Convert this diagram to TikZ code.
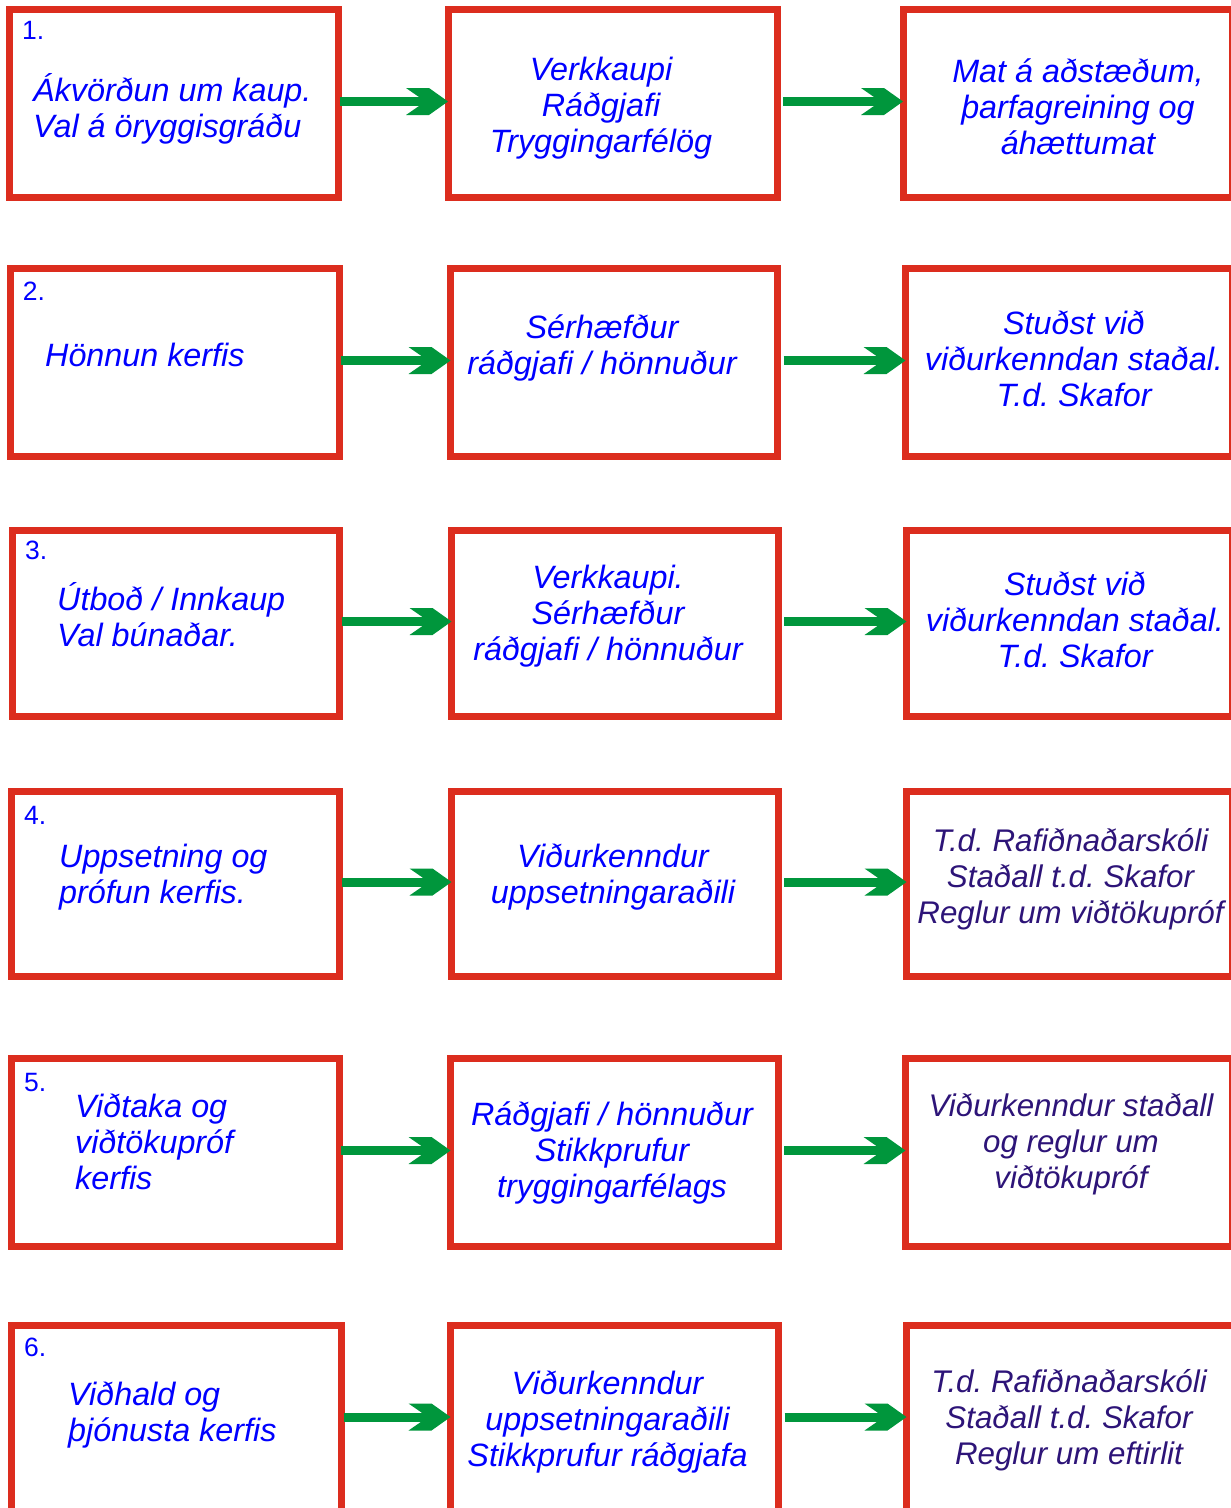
\documentclass[tikz,border=0pt]{standalone}
\usepackage{fontspec}
\setmainfont{Liberation Sans}
\usetikzlibrary{arrows.meta,fit}
\definecolor{boxred}{RGB}{220,45,30}
\definecolor{arrgreen}{RGB}{0,150,60}
\definecolor{txtblue}{RGB}{0,0,255}
\definecolor{txtindigo}{RGB}{45,20,120}
\pgfdeclarearrow{
  name = Chev,
  parameters = {},
  setup code = {
    \pgfarrowssettipend{0pt}
    \pgfarrowssetbackend{-42pt}
    \pgfarrowssetlineend{-28pt}
    \pgfarrowshullpoint{0pt}{0pt}
    \pgfarrowsupperhullpoint{-42pt}{13.5pt}
  },
  drawing code = {
    \pgfpathmoveto{\pgfqpoint{0pt}{0pt}}
    \pgfpathlineto{\pgfqpoint{-19pt}{13.5pt}}
    \pgfpathlineto{\pgfqpoint{-42pt}{13.5pt}}
    \pgfpathlineto{\pgfqpoint{-29pt}{4.5pt}}
    \pgfpathlineto{\pgfqpoint{-29pt}{-4.5pt}}
    \pgfpathlineto{\pgfqpoint{-42pt}{-13.5pt}}
    \pgfpathlineto{\pgfqpoint{-19pt}{-13.5pt}}
    \pgfpathclose
    \pgfusepathqfill
  }
}
\tikzset{
  box/.style={draw=boxred, line width=7pt, inner sep=0pt, outer sep=0pt, fit={#1}},
  conn/.style={color=arrgreen, line width=9pt, -{Chev}},
  ctext/.style={font=\fontsize{32.3}{36}\selectfont\itshape\frenchspacing, inner sep=0pt, align=center, text=txtblue, anchor=base},
  ltext/.style={ctext, align=left, anchor=base west},
  itext/.style={ctext, font=\fontsize{31.3}{35.6}\selectfont\itshape\frenchspacing, text=txtindigo},
  num/.style={font=\fontsize{26.5}{30}\selectfont, text=txtblue, inner sep=0pt, anchor=base west},
}
\begin{document}
\begin{tikzpicture}[x=1pt, y=-1pt]
\path[use as bounding box, fill=white] (0,0) rectangle (1231,1508);
% boxes
\node[box={(9.5,9.5) (338,197.5)}] (r1c1) {};
\node[box={(448,9.5) (777,197.5)}] (r1c2) {};
\node[box={(903,9.5) (1232,197.5)}] (r1c3) {};
\node[box={(10.5,268.5) (339,456.5)}] (r2c1) {};
\node[box={(450.5,268.5) (777.5,456.5)}] (r2c2) {};
\node[box={(905.5,268.5) (1232,456.5)}] (r2c3) {};
\node[box={(12,530.5) (339.5,716.5)}] (r3c1) {};
\node[box={(451.5,530.5) (778,716.5)}] (r3c2) {};
\node[box={(906.5,530.5) (1232,716.5)}] (r3c3) {};
\node[box={(11.5,791.5) (339.5,976.5)}] (r4c1) {};
\node[box={(451.5,791.5) (778,976.5)}] (r4c2) {};
\node[box={(906.5,791.5) (1232,976.5)}] (r4c3) {};
\node[box={(11.5,1058.5) (339,1246.5)}] (r5c1) {};
\node[box={(450.5,1058.5) (778,1246.5)}] (r5c2) {};
\node[box={(905.5,1058.5) (1232,1246.5)}] (r5c3) {};
\node[box={(11.5,1325.5) (341.5,1512.5)}] (r6c1) {};
\node[box={(450.5,1325.5) (778.5,1512.5)}] (r6c2) {};
\node[box={(906.5,1325.5) (1234.5,1512.5)}] (r6c3) {};
% arrows
\foreach \r in {1,...,6}{
  \draw[conn, shorten <=2pt] ([yshift=2pt]r\r c1.east) -- ([yshift=2pt]r\r c2.west);
  \draw[conn, shorten <=6pt] ([yshift=2pt]r\r c2.east) -- ([yshift=2pt]r\r c3.west);
}
% row 1 (anchors at the baseline of the last line)
\node[num] (n1) at (22,39.3) {1.};
\node[ltext] (t1a) at (33,137) {Ákvörðun um kaup.\\Val á öryggisgráðu};
\node[ctext] (t1b) at (601,152) {Verkkaupi\\Ráðgjafi\\Tryggingarfélög};
\node[ctext] (t1c) at (1078,154) {Mat á aðstæðum,\\þarfagreining og\\áhættumat};
% row 2
\node[num] (n2) at (22.7,300) {2.};
\node[ltext] (t2a) at (45,366.5) {Hönnun kerfis};
\node[ctext] (t2b) at (602,374) {Sérhæfður\\ráðgjafi / hönnuður};
\node[ctext] (t2c) at (1074,406) {Stuðst við\\viðurkenndan staðal.\\T.d. Skafor};
% row 3
\node[num] (n3) at (25,559.5) {3.};
\node[ltext] (t3a) at (57,646) {Útboð / Innkaup\\Val búnaðar.};
\node[ctext] (t3b) at (608,660) {Verkkaupi.\\Sérhæfður\\ráðgjafi / hönnuður};
\node[ctext] (t3c) at (1075,667) {Stuðst við\\viðurkenndan staðal.\\T.d. Skafor};
% row 4
\node[num] (n4) at (24,824.5) {4.};
\node[ltext] (t4a) at (59,903) {Uppsetning og\\prófun kerfis.};
\node[ctext] (t4b) at (613,903) {Viðurkenndur\\uppsetningaraðili};
\node[itext] (t4c) at (1070.5,923) {T.d. Rafiðnaðarskóli\\Staðall t.d. Skafor\\Reglur um viðtökupróf};
% row 5
\node[num] (n5) at (24,1091.5) {5.};
\node[ltext] (t5a) at (75,1189) {Viðtaka og\\viðtökupróf\\kerfis};
\node[ctext] (t5b) at (612,1197) {Ráðgjafi / hönnuður\\Stikkprufur\\tryggingarfélags};
\node[itext] (t5c) at (1071,1188) {Viðurkenndur staðall\\og reglur um\\viðtökupróf};
% row 6
\node[num] (n6) at (24,1356.7) {6.};
\node[ltext] (t6a) at (68,1441) {Viðhald og\\þjónusta kerfis};
\node[ctext] (t6b) at (607.5,1466) {Viðurkenndur\\uppsetningaraðili\\Stikkprufur ráðgjafa};
\node[itext] (t6c) at (1069,1464) {T.d. Rafiðnaðarskóli\\Staðall t.d. Skafor\\Reglur um eftirlit};
\end{tikzpicture}
\end{document}
